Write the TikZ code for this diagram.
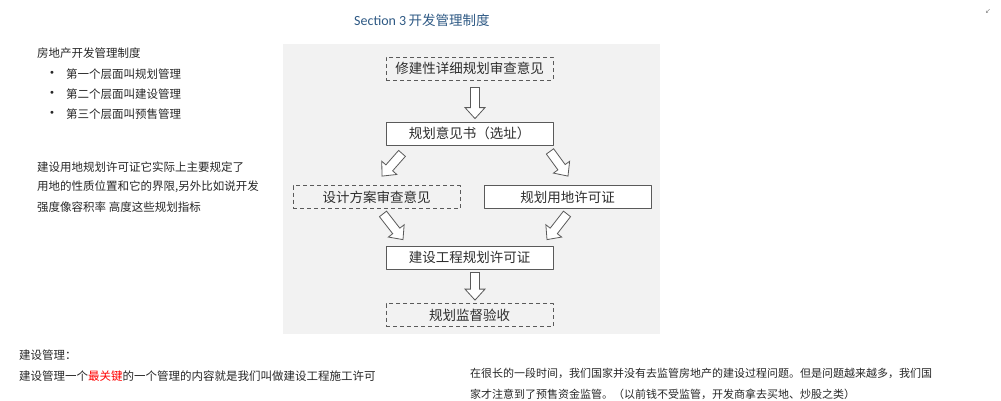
\documentclass[tikz,border=0pt]{standalone}
\usepackage{fontspec}
\setmainfont{Noto Sans CJK SC}
\newfontfamily\latinfont{Carlito}
\newfontfamily\symfont{DejaVu Sans}
\usetikzlibrary{calc}
\definecolor{panelgray}{HTML}{F2F2F2}
\definecolor{linegray}{HTML}{5A5A5A}
\definecolor{textgray}{HTML}{2E2E2E}
\definecolor{titleblue}{RGB}{46,89,132}
\begin{document}
\begin{tikzpicture}[x=1pt,y=-1pt, line join=round, line cap=round,
	box/.style={draw=linegray, fill=white, line width=0.8pt, minimum width=167pt, minimum height=23pt, inner sep=0pt, text=textgray, font=\fontsize{13.5}{15}\selectfont},
	dbox/.style={box, fill=none, dash pattern=on 4pt off 3pt, line cap=butt},
	hollow/.style={draw=linegray, fill=white, line width=0.8pt, line join=miter,
		to path={let \p1=(\tikztostart), \p2=(\tikztotarget), \p3=($(\p2)!11pt!(\p1)$) in
			($(\p1)!4.5pt!90:(\p2)$) -- ($(\p3)!4.5pt!-90:(\p1)$) -- ($(\p3)!10pt!-90:(\p1)$) -- (\p2)
			-- ($(\p3)!10pt!90:(\p1)$) -- ($(\p3)!4.5pt!90:(\p1)$) -- ($(\p1)!4.5pt!-90:(\p2)$) -- cycle}},
	txt/.style={anchor=west, inner sep=0pt, text=black!85, font=\fontsize{11.5}{14}\selectfont},
	small/.style={txt, font=\fontsize{11.5}{13}\selectfont}]
	\useasboundingbox (0,0) rectangle (1001,400);
	%\draw[line width=0.05pt,gray,dashed] (0,0) grid[step=50] (1000,400);
	\node[anchor=west, inner sep=0pt, text=titleblue] (title) at (354,20) {{\latinfont\fontsize{14}{16}\selectfont Section 3} {\fontsize{13.5}{16}\selectfont 开发管理制度}};
	\node[inner sep=0pt, text=gray, font=\symfont\fontsize{7}{8}\selectfont] (resize) at (988,11) {↙};
	% left notes
	\node[txt] (intro) at (37,53) {房地产开发管理制度};
	\foreach \t [count=\i] in {第一个层面叫规划管理, 第二个层面叫建设管理, 第三个层面叫预售管理}{
		\node[txt, font=\symfont\fontsize{10}{12}\selectfont] (bul\i) at (49,54+20*\i) {•};
		\node[txt] (item\i) at (66,54+20*\i) {\t};
	}
	\node[txt] (note1) at (37,167) {建设用地规划许可证它实际上主要规定了};
	\node[txt] (note2) at (37,187) {用地的性质位置和它的界限,另外比如说开发};
	\node[txt] (note3) at (37,207) {强度像容积率 高度这些规划指标};
	% flow chart
	\fill[panelgray] (283,44) rectangle (660,334);
	\node[dbox] (plan) at (469.5,68.5) {修建性详细规划审查意见};
	\node[box] (opinion) at (469.5,133.5) {规划意见书（选址）};
	\node[dbox] (design) at (376.5,197) {设计方案审查意见};
	\node[box] (landuse) at (567.5,197) {规划用地许可证};
	\node[box] (permit) at (469.5,257.5) {建设工程规划许可证};
	\node[dbox] (check) at (469.5,315) {规划监督验收};
	\draw[hollow] ($(plan.south)+(5.5,7)$) to ($(opinion.north)+(5.5,-3)$);
	\draw[hollow] ($(opinion.south)+(-67.5,8)$) to ($(design.north)+(5.5,-9)$);
	\draw[hollow] ($(opinion.south)+(80.5,6)$) to ($(landuse.north)+(0.5,-9)$);
	\draw[hollow] ($(design.south)+(6.5,5)$) to ($(permit.north)+(-66.5,-6)$);
	\draw[hollow] ($(landuse.south)+(-0.5,5)$) to ($(permit.north)+(77.5,-6)$);
	\draw[hollow] ($(permit.south)+(5.5,3)$) to ($(check.north)+(5.5,-3)$);
	% bottom notes
	\node[small] (build) at (19,355) {建设管理：};
	\node[small] (key) at (19,376) {建设管理一个\textcolor{red}{最关键}的一个管理的内容就是我们叫做建设工程施工许可};
	\node[small, font=\fontsize{11}{13}\selectfont] (long1) at (470,373) {在很长的一段时间，我们国家并没有去监管房地产的建设过程问题。但是问题越来越多，我们国};
	\node[small, font=\fontsize{11}{13}\selectfont] (long2) at (470,394) {家才注意到了预售资金监管。（以前钱不受监管，开发商拿去买地、炒股之类）};
\end{tikzpicture}
\end{document}
